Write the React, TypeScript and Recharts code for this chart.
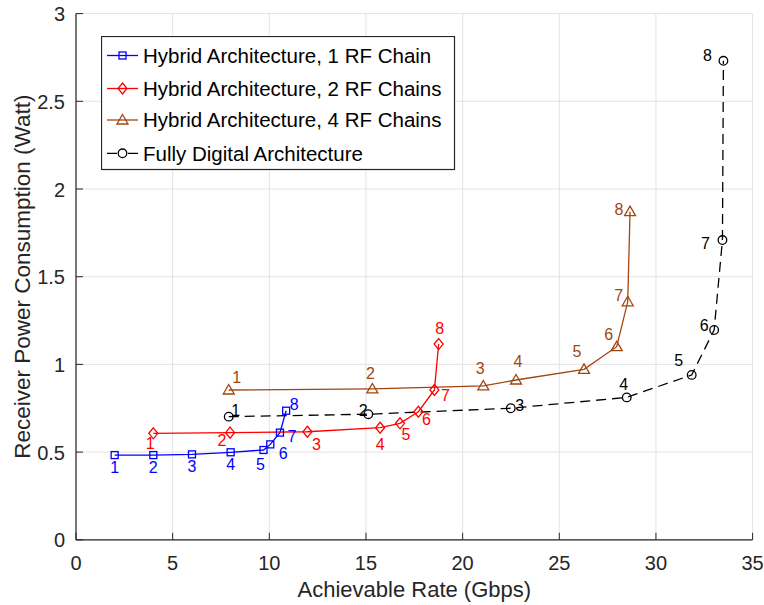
import React from 'react';
import { ComposedChart, Line, XAxis, YAxis, CartesianGrid, Legend, LabelList } from 'recharts';

const pointLabels = ['1', '2', '3', '4', '5', '6', '7', '8'];

const rate1RF = [2, 4, 6, 8, 9.7, 10.05, 10.55, 10.87];
const power1RF = [0.483, 0.483, 0.487, 0.499, 0.512, 0.544, 0.611, 0.736];

const rate2RF = [4, 7.97, 11.97, 15.73, 16.76, 17.71, 18.54, 18.76];
const power2RF = [0.607, 0.611, 0.616, 0.639, 0.664, 0.73, 0.854, 1.116];

const rate4RF = [7.9, 15.33, 21.07, 22.76, 26.28, 27.97, 28.54, 28.66];
const power4RF = [0.854, 0.86, 0.877, 0.911, 0.972, 1.101, 1.357, 1.871];

const rateDigital = [7.9, 15.12, 22.49, 28.49, 31.85, 33.01, 33.44, 33.49];
const powerDigital = [0.702, 0.716, 0.75, 0.812, 0.94, 1.196, 1.709, 2.731];

const xTicks = [0, 5, 10, 15, 20, 25, 30, 35];
const yTicks = [0, 0.5, 1, 1.5, 2, 2.5, 3];

const seriesNames = [
  'Hybrid Architecture, 1 RF Chain',
  'Hybrid Architecture, 2 RF Chains',
  'Hybrid Architecture, 4 RF Chains',
  'Fully Digital Architecture',
];

const xLabel = 'Achievable Rate (Gbps)';
const yLabel = 'Receiver Power Consumption (Watt)';

// label offsets (styling, pixels) for the numeric point annotations
const offs1RF = [[0, 12], [0, 12], [0, 12], [0, 12], [-3, 14], [13, 9], [12, 4], [8, -6]];
const offs2RF = [[-3, 10], [-8, 8], [9, 13], [0, 17], [6, 11], [8, 8], [11, 5], [1, -16]];
const offs4RF = [[8, -13], [-2, -16], [-3, -18], [2, -19], [-7, -18], [-8, -12], [-9, -6], [-11, -2]];
const offsDigital = [[7, -6], [-5, -4], [9, -3], [-3, -13], [-13, -15], [-10, -5], [-17, 3], [-16, -5]];

const FONT = '"Liberation Sans", Arial, Helvetica, sans-serif';
const AXIS = '#262626';
const BROWN = '#A2450F';

const build = (xs: number[], ys: number[]) =>
  xs.map((x, i) => ({ x, y: ys[i], label: pointLabels[i] }));

type Shape = 'square' | 'diamond' | 'triangle' | 'circle';

function Marker({ shape, cx, cy, color }: { shape: Shape; cx: number; cy: number; color: string }) {
  const common = { fill: 'none', stroke: color, strokeWidth: 1.3 };
  if (shape === 'square') return <rect x={cx - 3.5} y={cy - 3.5} width={7} height={7} {...common} />;
  if (shape === 'diamond')
    return <path d={`M${cx},${cy - 5.5}L${cx + 4.5},${cy}L${cx},${cy + 5.5}L${cx - 4.5},${cy}Z`} {...common} />;
  if (shape === 'triangle')
    return <path d={`M${cx},${cy - 5.5}L${cx + 5.5},${cy + 4}L${cx - 5.5},${cy + 4}Z`} {...common} />;
  return <circle cx={cx} cy={cy} r={4.3} {...common} />;
}

const series = [
  { id: 's1', name: seriesNames[0], data: build(rate1RF, power1RF), color: '#0000FF', shape: 'square' as Shape, dash: undefined, offs: offs1RF },
  { id: 's2', name: seriesNames[1], data: build(rate2RF, power2RF), color: '#FF0000', shape: 'diamond' as Shape, dash: undefined, offs: offs2RF },
  { id: 's4', name: seriesNames[2], data: build(rate4RF, power4RF), color: BROWN, shape: 'triangle' as Shape, dash: undefined, offs: offs4RF },
  { id: 'sd', name: seriesNames[3], data: build(rateDigital, powerDigital), color: '#000000', shape: 'circle' as Shape, dash: '10 6', offs: offsDigital },
];

const BottomTick = (p: any) => (
  <g>
    <line x1={p.x} y1={p.y} x2={p.x} y2={p.y - 7} stroke={AXIS} strokeWidth={1} />
    <text x={p.x} y={p.y + 30} textAnchor="middle" fontSize={20} fill={AXIS} fontFamily={FONT}>
      {p.payload.value}
    </text>
  </g>
);
const TopTick = (p: any) => <line x1={p.x} y1={p.y} x2={p.x} y2={p.y + 7} stroke={AXIS} strokeWidth={1} />;
const LeftTick = (p: any) => (
  <g>
    <line x1={p.x} y1={p.y} x2={p.x + 7} y2={p.y} stroke={AXIS} strokeWidth={1} />
    <text x={p.x - 11} y={p.y + 7.5} textAnchor="end" fontSize={20} fill={AXIS} fontFamily={FONT}>
      {p.payload.value}
    </text>
  </g>
);
const RightTick = (p: any) => <line x1={p.x} y1={p.y} x2={p.x - 7} y2={p.y} stroke={AXIS} strokeWidth={1} />;

const LegendBox = () => {
  const W = 353;
  const H = 133;
  const rows = [19.5, 52.5, 84, 117.3];
  return (
    <svg width={W + 2} height={H + 2} style={{ display: 'block' }}>
      <rect x={0.5} y={0.5} width={W} height={H} fill="#ffffff" stroke={AXIS} strokeWidth={1.2} />
      {series.map((s, i) => (
        <g key={s.id}>
          <line x1={6} y1={rows[i]} x2={37} y2={rows[i]} stroke={s.color} strokeWidth={1.3} strokeDasharray={s.dash ? '10 11' : undefined} />
          <Marker shape={s.shape} cx={21.5} cy={rows[i]} color={s.color} />
          <text x={42} y={rows[i] + 7.3} fontSize={20.5} fontFamily={FONT} fill="#000">
            {s.name}
          </text>
        </g>
      ))}
    </svg>
  );
};

export default function App() {
  return (
    <div style={{ position: 'absolute', left: 0, top: 0, background: '#fff' }}>
      <ComposedChart width={764} height={605} margin={{ top: 13.6, right: 11.4, bottom: 0, left: 0 }}>
        <CartesianGrid stroke="#e3e3e3" strokeWidth={1} />
        <XAxis
          dataKey="x"
          type="number"
          domain={[0, 35]}
          ticks={xTicks}
          interval={0}
          height={65.2}
          tickSize={0}
          tickMargin={0}
          tick={BottomTick}
          axisLine={{ stroke: AXIS, strokeWidth: 1.2 }}
          allowDataOverflow
          label={{
            value: xLabel,
            content: (p: any) => {
              const vb = p.viewBox;
              return (
                <text x={vb.x + vb.width / 2} y={vb.y + 57} textAnchor="middle" fontSize={22} fontFamily={FONT} fill={AXIS}>
                  {xLabel}
                </text>
              );
            },
          }}
        />
        <XAxis
          xAxisId="top"
          orientation="top"
          dataKey="x"
          type="number"
          domain={[0, 35]}
          ticks={xTicks}
          interval={0}
          height={0}
          tickSize={0}
          tickMargin={0}
          tick={TopTick}
          axisLine={{ stroke: AXIS, strokeWidth: 1.2 }}
        />
        <YAxis
          type="number"
          domain={[0, 3]}
          ticks={yTicks}
          interval={0}
          width={76}
          tickSize={0}
          tickMargin={0}
          tick={LeftTick}
          axisLine={{ stroke: AXIS, strokeWidth: 1.2 }}
          allowDataOverflow
          label={{
            value: yLabel,
            content: (p: any) => {
              const vb = p.viewBox;
              const cy = vb.y + vb.height / 2;
              return (
                <text x={30} y={cy} transform={`rotate(-90, 30, ${cy})`} textAnchor="middle" fontSize={22.5} fontFamily={FONT} fill={AXIS}>
                  {yLabel}
                </text>
              );
            },
          }}
        />
        <YAxis
          yAxisId="right"
          orientation="right"
          type="number"
          domain={[0, 3]}
          ticks={yTicks}
          interval={0}
          width={0}
          tickSize={0}
          tickMargin={0}
          tick={RightTick}
          axisLine={{ stroke: AXIS, strokeWidth: 1.2 }}
        />
        <Legend
          layout="horizontal"
          verticalAlign="middle"
          align="center"
          wrapperStyle={{ position: 'absolute', left: 101, top: 36, width: 356, height: 136 }}
          content={() => <LegendBox />}
        />
        {series.map((s) => (
          <Line
            key={s.id}
            data={s.data}
            dataKey="y"
            name={s.name}
            type="linear"
            stroke={s.color}
            strokeWidth={1.3}
            strokeDasharray={s.dash}
            isAnimationActive={false}
            dot={(p: any) => <Marker key={`${s.id}-${p.index}`} shape={s.shape} cx={p.cx} cy={p.cy} color={s.color} />}
            activeDot={false}
          >
            <LabelList
              dataKey="label"
              content={(p: any) => {
                const x = p.x ?? p.viewBox?.x;
                const y = p.y ?? p.viewBox?.y;
                const o = s.offs[p.index] || [0, 0];
                return (
                  <text x={x + o[0]} y={y + o[1] + 5.7} textAnchor="middle" fontSize={16} fontFamily={FONT} fill={s.color}>
                    {p.value}
                  </text>
                );
              }}
            />
          </Line>
        ))}
      </ComposedChart>
    </div>
  );
}
